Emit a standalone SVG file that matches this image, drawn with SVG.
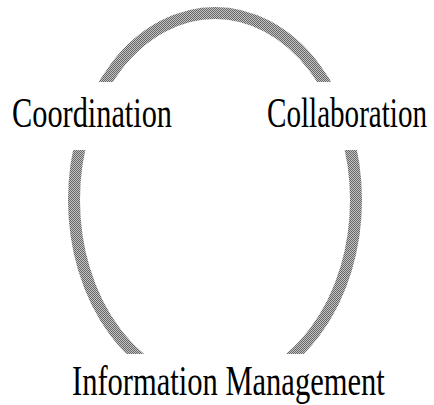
<svg xmlns="http://www.w3.org/2000/svg" width="434" height="405" viewBox="0 0 434 405">
  <style>
    .label { font-family: "Liberation Serif", "Times New Roman", serif; font-size: 42px; fill: #000; }
    .ring { fill: none; stroke: url(#dither); stroke-width: 12; }
  </style>
  <defs>
    <pattern id="dither" patternUnits="userSpaceOnUse" width="2" height="2">
      <rect x="0" y="0" width="2" height="2" fill="#c4c4c4"/>
      <rect x="0" y="0" width="1" height="1" fill="#666"/>
      <rect x="1" y="1" width="1" height="1" fill="#666"/>
    </pattern>
    <clipPath id="gaps">
      <rect x="0" y="0" width="434" height="82"/>
      <rect x="0" y="150" width="434" height="204"/>
    </clipPath>
  </defs>
  <rect width="434" height="405" fill="#fff"/>
  <g id="connectors">
    <ellipse class="ring" cx="215" cy="200" rx="141" ry="187" clip-path="url(#gaps)"/>
  </g>
  <g id="node-coordination" transform="translate(12,127) scale(0.722,1)">
    <text class="label" x="0" y="0">Coordination</text>
  </g>
  <g id="node-collaboration" transform="translate(267,127) scale(0.693,1)">
    <text class="label" x="0" y="0">Collaboration</text>
  </g>
  <g id="node-information-management" transform="translate(72,395) scale(0.727,1)">
    <text class="label" x="0" y="0">Information Management</text>
  </g>
</svg>
